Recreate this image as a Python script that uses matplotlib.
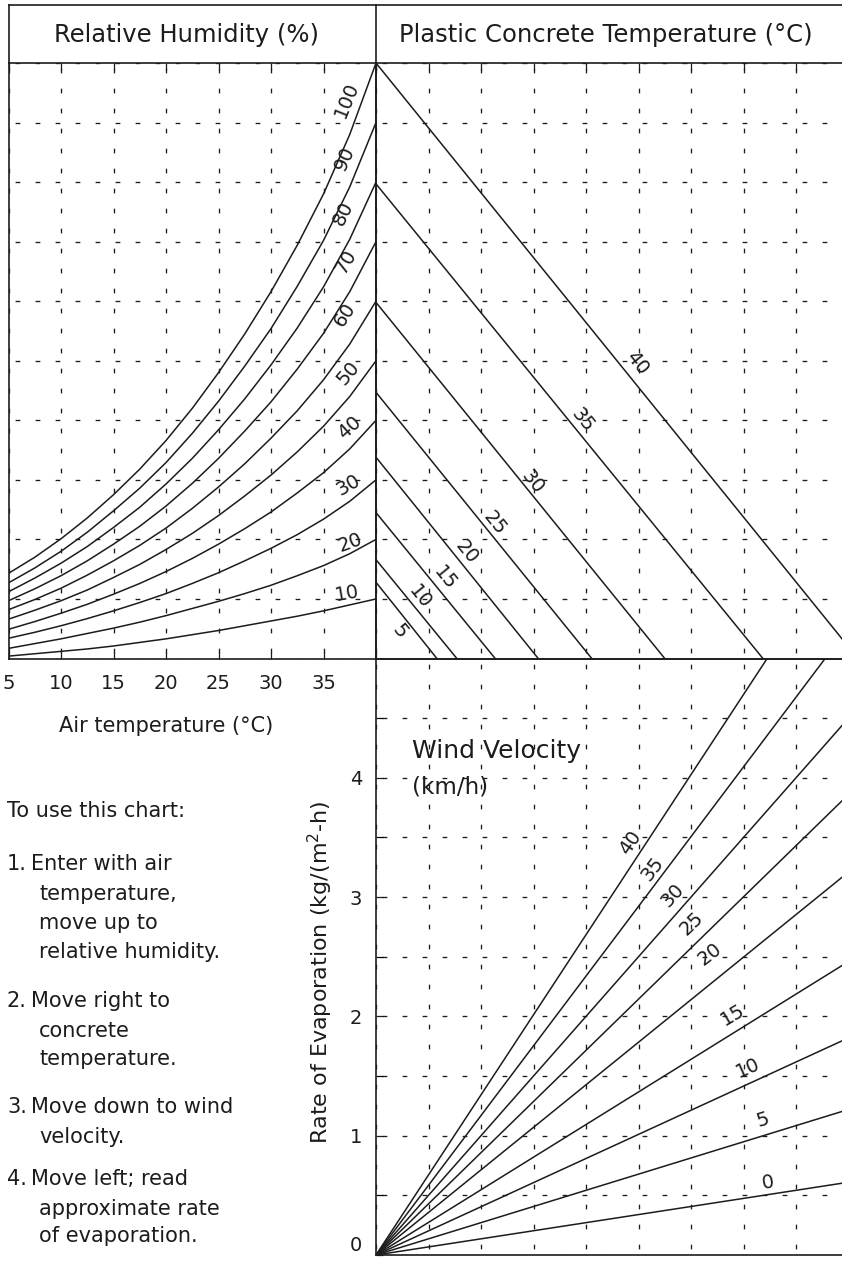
import matplotlib
matplotlib.use("Agg")
import matplotlib.pyplot as plt
from matplotlib.lines import Line2D
import numpy as np

plt.rcParams['font.family'] = ['DejaVu Sans']
plt.rcParams['lines.scale_dashes'] = False

# ------------------------------------------------------------------ data
air_temp = [5, 7.5, 10, 12.5, 15, 17.5, 20, 22.5, 25, 27.5, 30, 32.5, 35, 37.5, 40]
rh_levels = [100, 90, 80, 70, 60, 50, 40, 30, 20, 10]
rh_100 = [1.43, 1.70, 2.01, 2.36, 2.75, 3.18, 3.66, 4.20, 4.80, 5.45, 6.16, 6.94, 7.80, 8.80, 10.0]
rh_90 = [1.27, 1.52, 1.80, 2.12, 2.48, 2.86, 3.29, 3.78, 4.32, 4.91, 5.54, 6.25, 7.02, 7.92, 9.0]
rh_80 = [1.12, 1.35, 1.60, 1.88, 2.20, 2.54, 2.93, 3.36, 3.84, 4.36, 4.93, 5.55, 6.24, 7.04, 8.0]
rh_70 = [0.97, 1.17, 1.39, 1.64, 1.92, 2.22, 2.56, 2.94, 3.36, 3.82, 4.31, 4.86, 5.46, 6.16, 7.0]
rh_60 = [0.82, 0.99, 1.18, 1.40, 1.64, 1.90, 2.19, 2.52, 2.88, 3.27, 3.70, 4.16, 4.68, 5.28, 6.0]
rh_50 = [0.66, 0.81, 0.97, 1.15, 1.36, 1.58, 1.83, 2.10, 2.40, 2.73, 3.08, 3.47, 3.90, 4.40, 5.0]
rh_40 = [0.49, 0.62, 0.76, 0.91, 1.08, 1.26, 1.46, 1.68, 1.92, 2.18, 2.46, 2.78, 3.12, 3.52, 4.0]
rh_30 = [0.34, 0.44, 0.55, 0.67, 0.80, 0.94, 1.09, 1.26, 1.44, 1.64, 1.85, 2.08, 2.34, 2.64, 3.0]
rh_20 = [0.17, 0.25, 0.33, 0.42, 0.51, 0.61, 0.72, 0.84, 0.96, 1.09, 1.23, 1.39, 1.56, 1.76, 2.0]
rh_10 = [0.04, 0.08, 0.12, 0.16, 0.21, 0.27, 0.33, 0.40, 0.47, 0.55, 0.63, 0.71, 0.80, 0.90, 1.0]
rh_curves = [rh_100, rh_90, rh_80, rh_70, rh_60, rh_50, rh_40, rh_30, rh_20, rh_10]

concrete_temps = [40, 35, 30, 25, 20, 15, 10, 5]
concrete_start = [10.0, 7.97, 5.98, 4.47, 3.38, 2.45, 1.66, 1.28]   # value on left axis
concrete_end = [9.18, 7.37, 5.50, 4.11, 3.09, 2.27, 1.54, 1.16]     # x where line meets bottom

wind_speeds = [40, 35, 30, 25, 20, 15, 10, 5, 0]
wind_rate_at_x9 = [6.04, 5.26, 4.50, 3.86, 3.21, 2.46, 1.82, 1.22, 0.61]

air_ticks = [5, 10, 15, 20, 25, 30, 35]
air_tick_labels = ['5', '10', '15', '20', '25', '30', '35']
rate_ticks = [0, 1, 2, 3, 4]
rate_tick_labels = ['0', '1', '2', '3', '4']

# label placement (data coords of each panel) and text rotation
rh_label_pos = [(37.24, 9.38), (37.05, 8.40), (36.86, 7.48), (37.14, 6.66), (37.05, 5.77),
                (37.33, 4.79), (37.52, 3.87), (37.33, 2.92), (37.52, 1.94), (37.24, 1.10)]
rh_label_rot = [68, 66, 64, 60, 57, 50, 42, 30, 20, 10]
conc_label_pos = [(4.97, 4.96), (3.94, 4.01), (2.99, 2.97), (2.27, 2.28), (1.73, 1.79),
                  (1.31, 1.35), (0.84, 1.03), (0.46, 0.45)]
wind_label_pos = [(4.84, 3.46), (5.26, 3.24), (5.66, 3.02), (6.02, 2.78), (6.36, 2.52),
                  (6.80, 2.01), (7.09, 1.57), (7.37, 1.13), (7.47, 0.61)]
wind_label_rot = [56, 53, 48, 44, 38, 31, 24, 17, 9]

# ------------------------------------------------------------------ layout
W, H = 842, 1263
INK = '#1c1c1c'
fig = plt.figure(figsize=(W / 100, H / 100), dpi=100)
fig.patch.set_facecolor('white')


def fx(px):
    return px / W


def fy(py):
    return 1 - py / H


def rect(l, t, r, b):
    return [fx(l), fy(b), (r - l) / W, (b - t) / H]


X0, XM, XR = 8.5, 376, 848.5
Y0, Y1, YM, YB = 5, 63, 658.5, 1255

grid_ls = (10.0, (3.4, 11.0))
grid_kw = dict(color=INK, lw=0.95, linestyle=grid_ls)
LBL = 14


def style(ax):
    for s in ax.spines.values():
        s.set_linewidth(1.2)
        s.set_color(INK)
    ax.set_facecolor('none')
    ax.tick_params(direction='in', length=5, width=0.9, color=INK,
                   labelsize=14, labelcolor=INK)


# top-left : relative humidity
ax_tl = fig.add_axes(rect(X0, Y1, XM, YM))
style(ax_tl)
ax_tl.set_xlim(5, 40)
ax_tl.set_ylim(0, 10)
ax_tl.set_xticks(air_ticks + [40])
ax_tl.set_xticklabels(air_tick_labels + [''])
ax_tl.set_yticks(range(0, 11))
ax_tl.tick_params(axis='x', top=True, bottom=True, pad=11)
ax_tl.tick_params(axis='y', left=False, labelleft=False)
ax_tl.grid(True, **grid_kw)
for vals in rh_curves:
    ax_tl.plot(air_temp, vals, color=INK, lw=1.1, solid_joinstyle='round')
for lev, (x, y), rot in zip(rh_levels, rh_label_pos, rh_label_rot):
    ax_tl.text(x, y, str(lev), rotation=rot, rotation_mode='anchor', ha='center', va='center',
               fontsize=LBL, color=INK)

# top-right : concrete temperature
ax_tr = fig.add_axes(rect(XM, Y1, XR, YM))
style(ax_tr)
ax_tr.set_xlim(0, 9)
ax_tr.set_ylim(0, 10)
ax_tr.set_xticks(range(0, 10))
ax_tr.set_yticks(range(0, 11))
ax_tr.tick_params(axis='x', top=True, bottom=False, labelbottom=False)
ax_tr.tick_params(axis='y', left=False, labelleft=False)
ax_tr.grid(True, **grid_kw)
for t, y0, x1 in zip(concrete_temps, concrete_start, concrete_end):
    ax_tr.plot([0, x1], [y0, 0], color=INK, lw=1.1)
for t, (x, y) in zip(concrete_temps, conc_label_pos):
    ax_tr.text(x, y, str(t), rotation=-51, rotation_mode='anchor', ha='center', va='center',
               fontsize=LBL, color=INK)

# bottom-right : wind velocity / evaporation
ax_br = fig.add_axes(rect(XM, YM, XR, YB))
style(ax_br)
ax_br.set_xlim(0, 9)
ax_br.set_ylim(0, 5)
ax_br.set_xticks(range(0, 10))
ax_br.set_yticks(rate_ticks)
ax_br.set_yticklabels(rate_tick_labels)
ax_br.set_yticks(np.arange(0.5, 5, 1.0), minor=True)
ax_br.tick_params(axis='x', bottom=False, labelbottom=False)
ax_br.tick_params(axis='y', which='both', direction='in', length=5, width=0.9, pad=10)
ax_br.grid(True, which='both', **grid_kw)
ax_br.get_yticklabels()[0].set_verticalalignment('bottom')
for v, r in zip(wind_speeds, wind_rate_at_x9):
    ax_br.plot([0, 9], [0, r], color=INK, lw=1.1)
for v, (x, y), rot in zip(wind_speeds, wind_label_pos, wind_label_rot):
    ax_br.text(x, y, str(v), rotation=rot, rotation_mode='anchor', ha='center', va='center',
               fontsize=LBL, color=INK)

# frame lines of the title row
line_kw = dict(color=INK, lw=1.2, transform=fig.transFigure)
fig.add_artist(Line2D([fx(X0), fx(W + 5)], [fy(Y0), fy(Y0)], **line_kw))
fig.add_artist(Line2D([fx(X0), fx(X0)], [fy(Y0), fy(Y1)], **line_kw))
fig.add_artist(Line2D([fx(XM), fx(XM)], [fy(Y0), fy(Y1)], **line_kw))

# titles
fig.text(fx(186), fy(35), 'Relative Humidity (%)', ha='center', va='center',
         fontsize=17.5, color=INK)
fig.text(fx(606), fy(35), 'Plastic Concrete Temperature (°C)', ha='center', va='center',
         fontsize=17.5, color=INK)
fig.text(fx(166), fy(732), 'Air temperature (°C)', ha='center', va='baseline',
         fontsize=15, color=INK)
fig.text(fx(412), fy(758), 'Wind Velocity', ha='left', va='baseline', fontsize=18, color=INK)
fig.text(fx(412), fy(793), '(km/h)', ha='left', va='baseline', fontsize=16.5, color=INK)
fig.text(fx(320), fy(972), 'Rate of Evaporation (kg/(m$^{2}$-h)', rotation=90,
         ha='center', va='center', fontsize=16, color=INK)

# instructions
instr_fs = 15
fig.text(fx(7), fy(817), 'To use this chart:', ha='left', va='baseline', fontsize=instr_fs, color=INK)
steps = [
    ('1.', ['Enter with air', 'temperature,', 'move up to', 'relative humidity.'], [870, 900, 929, 958]),
    ('2.', ['Move right to', 'concrete', 'temperature.'], [1007, 1037, 1065]),
    ('3.', ['Move down to wind', 'velocity.'], [1113, 1143]),
    ('4.', ['Move left; read', 'approximate rate', 'of evaporation.'], [1185, 1215, 1242]),
]
for num, lines, ys in steps:
    fig.text(fx(7), fy(ys[0]), num, ha='left', va='baseline', fontsize=instr_fs, color=INK)
    for i, (txt, yy) in enumerate(zip(lines, ys)):
        fig.text(fx(31 if i == 0 else 39), fy(yy), txt, ha='left', va='baseline',
                 fontsize=instr_fs, color=INK)

fig.savefig('out.png', dpi=100, facecolor='white')
